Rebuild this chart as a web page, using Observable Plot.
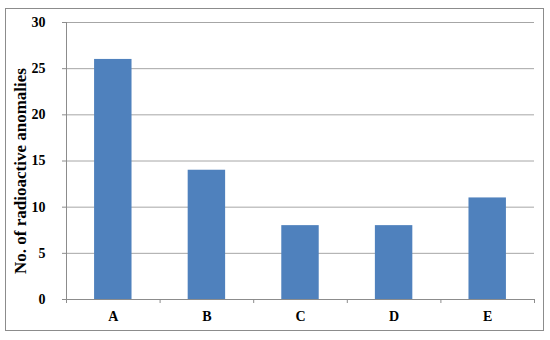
<!DOCTYPE html>
<html><head><meta charset="utf-8">
<script src="https://cdn.jsdelivr.net/npm/d3@7"></script>
<script src="https://cdn.jsdelivr.net/npm/@observablehq/plot@0.6"></script>
<style>body{margin:0;background:#fff}</style>
</head><body><div id="chart"></div>
<script>
const categories = ["A", "B", "C", "D", "E"];
const values = [26, 14, 8, 8, 11];
const yTicks = [0, 5, 10, 15, 20, 25, 30];
const yLabel = "No. of radioactive anomalies";

const data = categories.map((c, i) => ({cat: c, i, value: values[i]}));
const bounds = d3.range(categories.length + 1);
const centers = categories.map((c, i) => i + 0.5);
const font = "'Liberation Serif', 'Times New Roman', serif";

const plot = Plot.plot({
  width: 550, height: 340,
  marginLeft: 66, marginRight: 16, marginTop: 22, marginBottom: 41,
  style: {fontFamily: font, fontWeight: "bold", fontSize: "14px", color: "#000", background: "#fff"},
  x: {type: "linear", domain: [0, categories.length], axis: null},
  y: {domain: [0, 30], axis: null},
  marks: [
    Plot.frame({stroke: "#8c8c8c", strokeWidth: 1, insetLeft: -61, insetTop: -14, insetRight: -9, insetBottom: -31}),
    Plot.gridY(yTicks, {stroke: "#a6a6a6", strokeOpacity: 1}),
    Plot.rectY(data, {x1: d => d.i + 0.3, x2: d => d.i + 0.7, y: "value", fill: "#4F81BD"}),
    Plot.ruleY([0], {stroke: "#8c8c8c"}),
    Plot.ruleX([0], {stroke: "#8c8c8c"}),
    Plot.axisY({ticks: yTicks, tickSize: 4, tickPadding: 17, stroke: "#8c8c8c", label: null}),
    Plot.axisX({ticks: bounds, tickSize: 4, text: null, stroke: "#8c8c8c", label: null}),
    Plot.axisX({ticks: centers, tickSize: 0, tickPadding: 12, tickFormat: d => categories[Math.floor(d)], label: null}),
    Plot.text([yLabel], {frameAnchor: "left", dx: -46, dy: 10, rotate: -90, textAnchor: "middle", fontSize: 17, fontWeight: "bold", fill: "#000"})
  ]
});
document.getElementById("chart").append(plot);
</script></body></html>
